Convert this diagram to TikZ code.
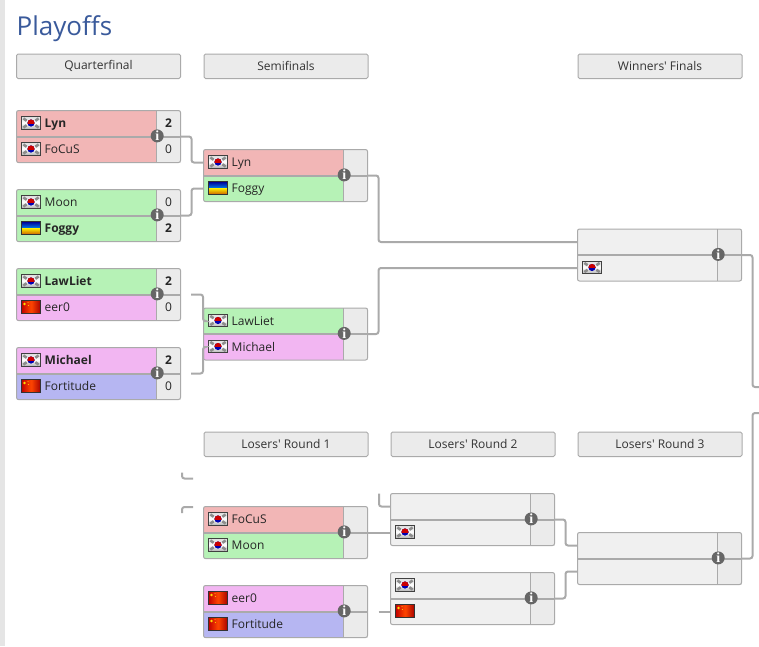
\documentclass[tikz,border=0pt]{standalone}
\usepackage{fontspec}
\setmainfont{Open Sans}[Ligatures=TeXOff]
\newfontfamily\iconfont{Liberation Serif}
\usetikzlibrary{fit, calc}
\definecolor{rowred}{HTML}{F2B6B6}
\definecolor{rowgrn}{HTML}{B6F2B6}
\definecolor{rowvio}{HTML}{F2B6F2}
\definecolor{rowblu}{HTML}{B6B6F2}
\definecolor{rowgry}{HTML}{F0F0F0}
\definecolor{colgry}{HTML}{EBEBEB}
\definecolor{linegry}{HTML}{AAAAAA}
\definecolor{icongry}{HTML}{666666}
\definecolor{titleblu}{HTML}{3A5A9B}

\tikzset{
  rowbox/.style={rectangle, anchor=north west, minimum width=140, minimum height=26, inner sep=0, outer sep=0},
  scorebox/.style={rectangle, anchor=north west, minimum width=24, minimum height=26, inner sep=0, outer sep=0,
    fill=colgry, text=black!85, text height=7.5, text depth=0, font=\fontsize{12}{14}\selectfont},
  rowtext/.style={anchor=base west, inner sep=0, text=black!85, font=\fontsize{12}{14}\selectfont},
  framebox/.style={rectangle, draw=linegry, line width=1, rounded corners=2, inner sep=0, outer sep=0},
  headbox/.style={rectangle, anchor=north west, draw=linegry, fill=colgry, line width=1, rounded corners=1.5,
    minimum width=164, minimum height=24.5, inner sep=0, text=black!80, font=\fontsize{12}{14}\selectfont},
  iconnode/.style={circle, fill=icongry, text=white, minimum size=13, inner sep=0,
    font=\iconfont\bfseries\fontsize{14}{14}\selectfont},
  link/.style={draw=linegry, line width=2, rounded corners=2.5},
  splitline/.style={draw=linegry, line width=2},
  koflag/.pic={
    \draw[black!75, line width=0.7, top color=black!12, bottom color=black!30, middle color=white] (-9.7,-6.2) rectangle (9.7,6.2);
    \fill[blue!70!black] (0,0) circle (3.6);
    \begin{scope}
      \clip (-4,-4) rectangle (4,0.3);
      \fill[red!80!black] (0,0) circle (3.6);
    \end{scope}
    \foreach \sx/\sy/\ang in {-6/-3.4/-35, 6/-3.4/35, -6/3.4/35, 6/3.4/-35}
      \fill[black!45, rotate around={\ang:(\sx,\sy)}] (\sx-2,\sy-1.3) rectangle (\sx+2,\sy+1.3);
  },
  cnflag/.pic={
    \draw[black!80, line width=0.7, left color=red!75!black, right color=red!65!black, middle color=orange!55!red] (-9.7,-6.2) rectangle (9.7,6.2);
    \fill[yellow!80!orange] (-6.5,-3) circle (1.4);
    \fill[yellow!80!orange] (-3,-4.3) circle (0.5);
    \fill[yellow!80!orange] (-2.6,-1.6) circle (0.5);
  },
  uaflag/.pic={
    \shade[top color=blue!60!black, bottom color=blue!45!cyan!90!black] (-9.7,-6.2) rectangle (9.7,0);
    \shade[top color=yellow!90!orange, bottom color=orange!80!black] (-9.7,0) rectangle (9.7,6.2);
    \draw[black!80, line width=0.7] (-9.7,-6.2) rectangle (9.7,6.2);
  },
  noflag/.pic={}
}

% name, x, y, fill, flag, label, score
\newcommand{\matchrow}[7]{
  \node[rowbox, fill=#4] (#1) at (#2,#3) {};
  \node[scorebox] (#1s) at ($(#2,#3)+(140,0)$) {#7};
  \pic at ([xshift=14.5, yshift=0.5]#1.west) {#5};
  \node[rowtext] (#1t) at ([xshift=28, yshift=-4]#1.west) {#6};
}
% name of the match, rows are <name>a and <name>b
\newcommand{\matchframe}[1]{
  \node[framebox, fit=(#1a)(#1b)(#1as)(#1bs)] (#1) {};
  \draw[splitline] (#1a.south west) -- (#1as.south east);
  \draw[draw=linegry, line width=1] (#1as.north west) -- (#1bs.south west);
  \node[iconnode] (#1i) at ([xshift=0.7, yshift=0.6]#1as.south west) {i};
}

\begin{document}
\begin{tikzpicture}[x=1pt, y=-1pt]
  \useasboundingbox (0,0) rectangle (759,646);
  \fill[black!10] (0,0) rectangle (5,646);

  \node[anchor=base west, inner sep=0, text=titleblu, font=\fontsize{26}{30}\selectfont] (title) at (16.5,35) {Playoffs};

  \node[headbox] (hqf) at (16,53.5) {Quarterfinal};
  \node[headbox] (hsf) at (203.5,53.5) {Semifinals};
  \node[headbox] (hwf) at (577.5,53.5) {Winners' Finals};
  \node[headbox] (hlra) at (203.5,431.5) {Losers' Round 1};
  \node[headbox] (hlrb) at (390.5,431.5) {Losers' Round 2};
  \node[headbox] (hlrc) at (577.5,431.5) {Losers' Round 3};

  % quarterfinals
  \matchrow{qaa}{16.5}{110.5}{rowred}{koflag}{\textbf{Lyn}}{\textbf{2}}
  \matchrow{qab}{16.5}{136.5}{rowred}{koflag}{FoCuS}{0}
  \matchframe{qa}
  \matchrow{qba}{16.5}{189.5}{rowgrn}{koflag}{Moon}{0}
  \matchrow{qbb}{16.5}{215.5}{rowgrn}{uaflag}{\textbf{Foggy}}{\textbf{2}}
  \matchframe{qb}
  \matchrow{qca}{16.5}{268.5}{rowgrn}{koflag}{\textbf{LawLiet}}{\textbf{2}}
  \matchrow{qcb}{16.5}{294.5}{rowvio}{cnflag}{eer0}{0}
  \matchframe{qc}
  \matchrow{qda}{16.5}{347.5}{rowvio}{koflag}{\textbf{Michael}}{\textbf{2}}
  \matchrow{qdb}{16.5}{373.5}{rowblu}{cnflag}{Fortitude}{0}
  \matchframe{qd}

  % semifinals
  \matchrow{saa}{203.5}{149.5}{rowred}{koflag}{Lyn}{}
  \matchrow{sab}{203.5}{175.5}{rowgrn}{uaflag}{Foggy}{}
  \matchframe{sa}
  \matchrow{sba}{203.5}{308}{rowgrn}{koflag}{LawLiet}{}
  \matchrow{sbb}{203.5}{334}{rowvio}{koflag}{Michael}{}
  \matchframe{sb}

  % winners' final
  \matchrow{wfa}{577.5}{229}{rowgry}{noflag}{}{}
  \matchrow{wfb}{577.5}{255}{rowgry}{koflag}{}{}
  \matchframe{wf}

  % losers' rounds
  \matchrow{laa}{203.5}{506.5}{rowred}{koflag}{FoCuS}{}
  \matchrow{lab}{203.5}{532.5}{rowgrn}{koflag}{Moon}{}
  \matchframe{la}
  \matchrow{lba}{203.5}{585.5}{rowvio}{cnflag}{eer0}{}
  \matchrow{lbb}{203.5}{611.5}{rowblu}{cnflag}{Fortitude}{}
  \matchframe{lb}
  \matchrow{lca}{390.5}{493.5}{rowgry}{noflag}{}{}
  \matchrow{lcb}{390.5}{519.5}{rowgry}{koflag}{}{}
  \matchframe{lc}
  \matchrow{lda}{390.5}{572.5}{rowgry}{koflag}{}{}
  \matchrow{ldb}{390.5}{598.5}{rowgry}{cnflag}{}{}
  \matchframe{ld}
  \matchrow{lea}{577.5}{532.5}{rowgry}{noflag}{}{}
  \matchrow{leb}{577.5}{558.5}{rowgry}{noflag}{}{}
  \matchframe{le}

  % free ends
  \coordinate (qcend) at (191,294.5);
  \coordinate (qdend) at (191,373.5);
  \coordinate (stuba) at (193,478.5);
  \coordinate (stubb) at (193,507);
  \coordinate (stubc) at (379,493.5);
  \coordinate (stubd) at (378.5,611.5);
  \coordinate (outa) at (759,387);
  \coordinate (outb) at (759,413);

  \draw[link] (qa.east) -- ++(11,0) |- (saa.west);
  \draw[link] (qb.east) -- ++(11,0) |- (sab.west);
  \draw[link] (qcend) -- ++(12,0) |- (sba.west);
  \draw[link] (qdend) -- ++(12,0) |- (sbb.west);
  \draw[link] (sa.east) -- ++(11,0) |- (wfa.west);
  \draw[link] (sb.east) -- ++(11,0) |- (wfb.west);
  \draw[link] (wf.east) -- ++(11,0) |- (outa);
  \draw[link] (le.east) -- ++(11,0) |- (outb);
  \draw[link] (stuba) -- ++(-11,0) -- ++(0,-6);
  \draw[link] (stubb) -- ++(-11,0) -- ++(0,6);
  \draw[link] (stubc) |- (lca.west);
  \draw[link] (la.east) -- (lcb.west);
  \draw[link] (stubd) -- (ldb.west);
  \draw[link] (lc.east) -- ++(11,0) |- (lea.west);
  \draw[link] (ld.east) -- ++(11,0) |- (leb.west);
\end{tikzpicture}
\end{document}
